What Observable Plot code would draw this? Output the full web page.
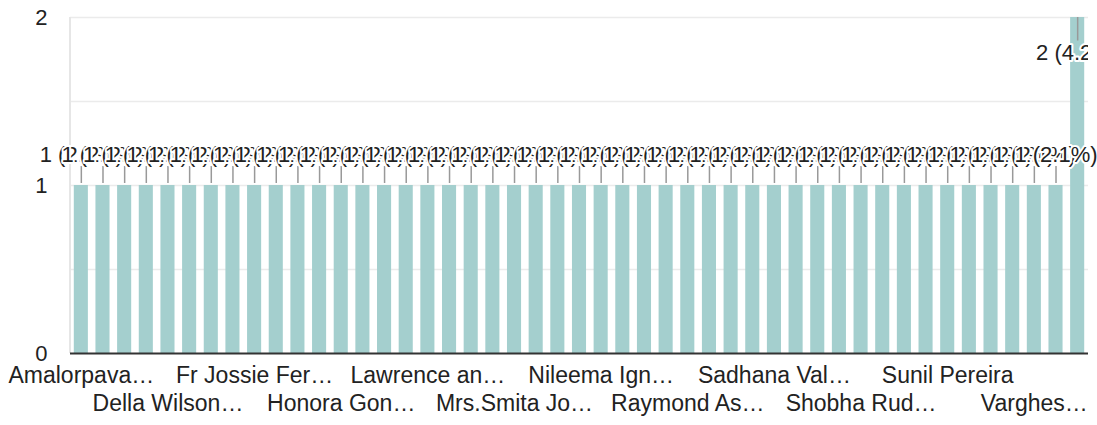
<!DOCTYPE html>
<html>
<head>
<meta charset="utf-8">
<script src="https://cdn.jsdelivr.net/npm/d3@7"></script>
<script src="https://cdn.jsdelivr.net/npm/@observablehq/plot@0.6"></script>
<style>
  html, body { margin: 0; padding: 0; background: #fff; }
</style>
</head>
<body>
<div id="chart"></div>
<script>
// Category labels (only every 4th one is readable in the reference; the rest are hidden)
const names = [
  "Amalorpava…", "", "", "",
  "Della Wilson…", "", "", "",
  "Fr Jossie Fer…", "", "", "",
  "Honora Gon…", "", "", "",
  "Lawrence an…", "", "", "",
  "Mrs.Smita Jo…", "", "", "",
  "Nileema Ign…", "", "", "",
  "Raymond As…", "", "", "",
  "Sadhana Val…", "", "", "",
  "Shobha Rud…", "", "", "",
  "Sunil Pereira", "", "", "",
  "Varghes…", "", ""
];
// Response counts per category
const counts = [
  1, 1, 1, 1, 1, 1, 1, 1, 1, 1,
  1, 1, 1, 1, 1, 1, 1, 1, 1, 1,
  1, 1, 1, 1, 1, 1, 1, 1, 1, 1,
  1, 1, 1, 1, 1, 1, 1, 1, 1, 1,
  1, 1, 1, 1, 1, 1, 2
];
const yTicks = [0, 1, 2];
const gridValues = [0.5, 1, 1.5, 2];

const data = counts.map((v, i) => ({i, name: names[i], v}));
const total = d3.sum(counts);
const maxV = d3.max(counts);
const fmt = d => `${d.v} (${(d.v / total * 100).toFixed(1)}%)`;

const leftLine = (index, scales, values, dims) => {
  const x = dims.marginLeft;
  return d3.create("svg:line")
    .attr("x1", x).attr("x2", x)
    .attr("y1", dims.marginTop).attr("y2", dims.height - dims.marginBottom)
    .attr("stroke", "#e6e6e6").attr("stroke-width", 2)
    .node();
};

const chart = Plot.plot({
  width: 1097,
  height: 425,
  marginLeft: 70,
  marginRight: 9,
  marginTop: 17,
  marginBottom: 72,
  style: {fontFamily: "'Liberation Sans', Arial, sans-serif", fontSize: "22px", color: "#222", background: "white", overflow: "visible"},
  x: {type: "band", domain: data.map(d => d.i), paddingInner: 0.35, paddingOuter: 0.175, axis: null},
  y: {domain: [0, 2], ticks: yTicks, tickSize: 0, tickPadding: 23, label: null, tickFormat: d => String(d)},
  marks: [
    Plot.ruleY(gridValues, {stroke: "#ebebeb", strokeWidth: 1.5}),
    leftLine,
    Plot.barY(data, {x: "i", y: "v", fill: "#a4cfce"}),
    Plot.ruleY([0], {stroke: "#333", strokeWidth: 2}),
    Plot.ruleX(data, {
      x: "i",
      y1: d => d.v === maxV ? d.v : d.v + 0.012,
      y2: d => d.v === maxV ? d.v - 0.14 : d.v + 0.113,
      stroke: "#999", strokeWidth: 1.5
    }),
    Plot.text(data.filter(d => d.v !== maxV), {
      x: "i", y: "v", text: fmt, dy: -31, fill: "#222",
      stroke: "white", strokeWidth: 4
    }),
    Plot.text(data.filter(d => d.v === maxV), {
      x: "i", y: "v", text: fmt, dy: 35, fill: "#222",
      stroke: "white", strokeWidth: 4, clip: true
    }),
    Plot.text(data.filter(d => d.name && d.i % 8 === 0), {
      x: "i", text: "name", frameAnchor: "bottom", dy: 29, fill: "#222", fontSize: 23
    }),
    Plot.text(data.filter(d => d.name && d.i % 8 === 4), {
      x: "i", text: "name", frameAnchor: "bottom", dy: 57, fill: "#222", fontSize: 23
    })
  ]
});
document.getElementById("chart").appendChild(chart);
</script>
</body>
</html>
